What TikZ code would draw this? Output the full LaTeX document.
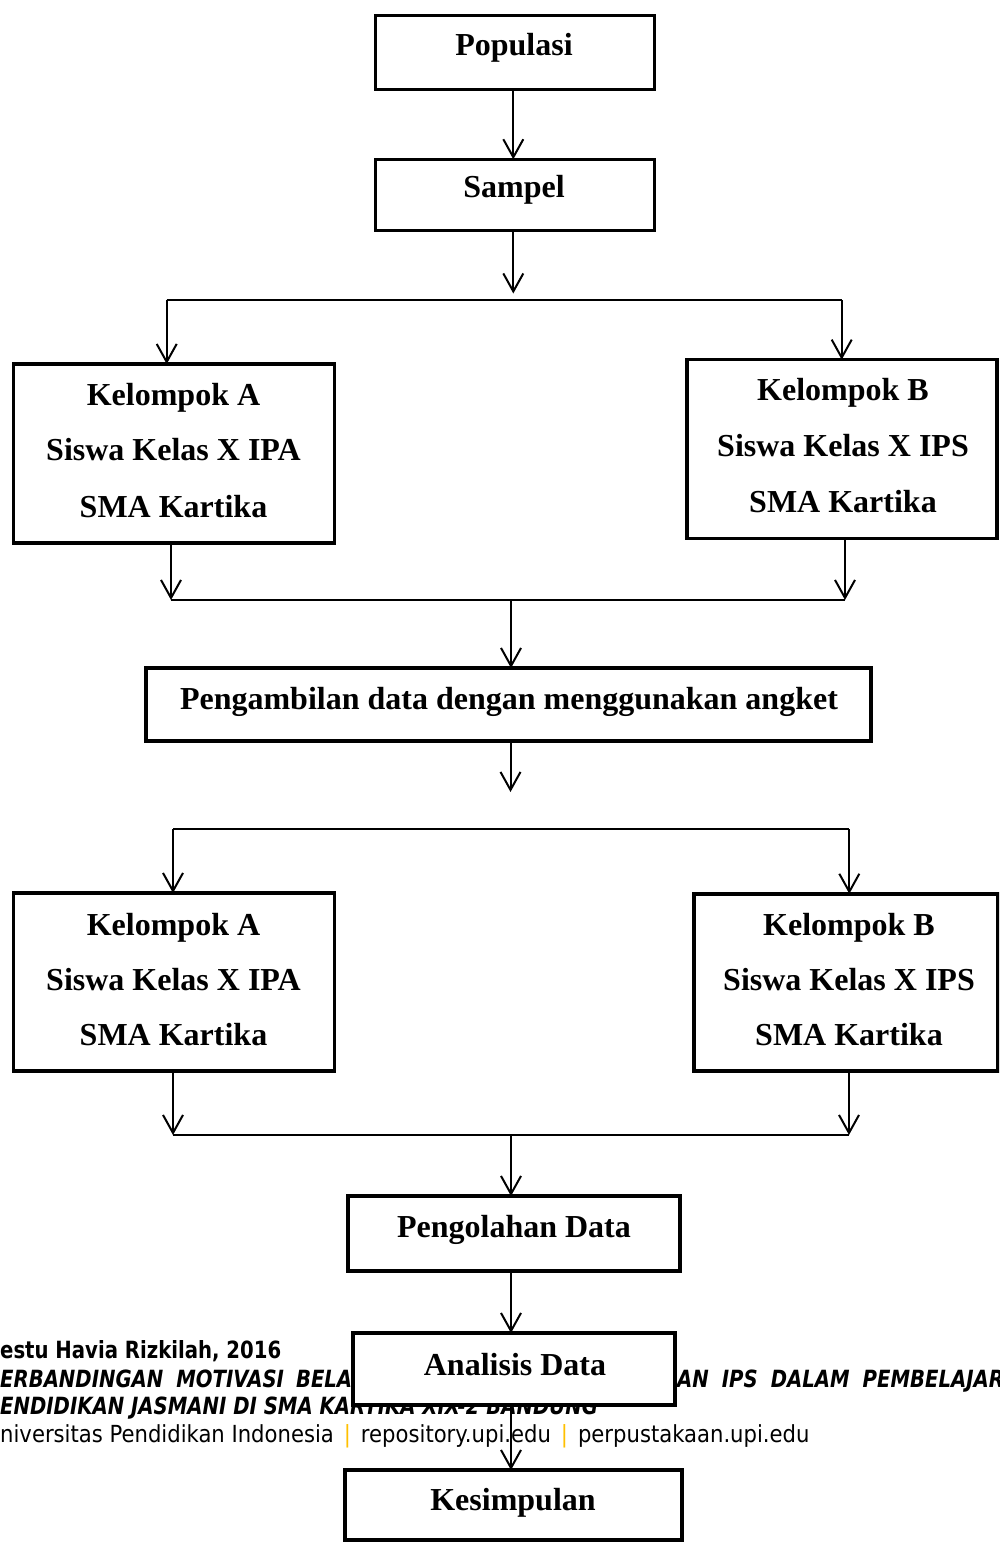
\documentclass[tikz,border=0pt]{standalone}
\usepackage{fontspec}
\setmainfont{Liberation Serif}
\newfontfamily\footreg[FakeStretch=0.9]{DejaVu Sans}
\newfontfamily\footbold[FakeStretch=0.83]{DejaVu Sans}
\usetikzlibrary{arrows.meta}
\definecolor{sepcol}{HTML}{FFC000}
\tikzset{
  bx/.style={draw, line width=3.5pt, fill=white, inner sep=0pt, outer sep=0pt},
  lbl/.style={anchor=base, inner sep=0pt, font=\fontsize{32}{38}\selectfont\bfseries},
  ln/.style={line width=2pt},
  arr/.style={ln, -{Straight Barb[length=18pt,width=20pt]}},
  ft/.style={anchor=base west, inner sep=0pt, font=\fontsize{23.5}{28}\footreg},
  ftb/.style={anchor=base west, inner sep=0pt, font=\fontsize{23.7}{28}\footbold\bfseries},
  ftbi/.style={anchor=base west, inner sep=0pt, font=\fontsize{23.7}{28}\footbold\bfseries\itshape},
}
\begin{document}
\begin{tikzpicture}[x=1pt,y=-1pt]
\useasboundingbox (0,0) rectangle (999,1544);
\clip (0,0) rectangle (999,1544);
\fill[white] (0,0) rectangle (999,1544);

% footer text (behind the chart)
\node[ftb] (f1) at (0,1358) {estu Havia Rizkilah, 2016};
\node[ftbi] (f2a) at (0,1387) {ERBANDINGAN\hspace{13pt}MOTIVASI\hspace{12pt}BELA};
\node[ftbi] (f2b) at (677,1387) {AN\hspace{13pt}IPS\hspace{13pt}DALAM\hspace{13pt}PEMBELAJARAN};
\node[ftbi] (f3) at (0,1414) {ENDIDIKAN JASMANI DI SMA KARTIKA XIX-2 BANDUNG};
\node[ft] (f4) at (0,1442) {niversitas Pendidikan Indonesia\hspace{10pt}{\color{sepcol}|}\hspace{10pt}repository.upi.edu\hspace{10pt}{\color{sepcol}|}\hspace{10pt}perpustakaan.upi.edu};

% boxes
\node[bx, minimum width=279pt, minimum height=74pt] (pop) at (515,52.3) {};
\node[bx, minimum width=279pt, minimum height=71pt] (samp) at (515,194.8) {};
\node[bx, minimum width=321pt, minimum height=179pt] (ka1) at (174.1,453.5) {};
\node[bx, minimum width=310pt, minimum height=179pt] (kb1) at (842,449.2) {};
\node[bx, minimum width=725pt, minimum height=73pt] (peng) at (508.5,704.5) {};
\node[bx, minimum width=321pt, minimum height=178pt] (ka2) at (174.1,982) {};
\node[bx, minimum width=304pt, minimum height=177pt] (kb2) at (846,982.3) {};
\node[bx, minimum width=332pt, minimum height=75pt] (olah) at (514,1233.5) {};
\node[bx, minimum width=322pt, minimum height=72pt] (anal) at (514,1369) {};
\node[bx, minimum width=337pt, minimum height=70pt] (kes) at (513.5,1505) {};

% texts
\node[lbl] (popt) at (514,56) {Populasi};
\node[lbl] (sampt) at (514,197) {Sampel};
\node[lbl] (ka1a) at (173.5,405) {Kelompok A};
\node[lbl] (ka1b) at (173.5,460) {Siswa Kelas X IPA};
\node[lbl] (ka1c) at (173.5,517) {SMA Kartika};
\node[lbl] (kb1a) at (843,400) {Kelompok B};
\node[lbl] (kb1b) at (843,456) {Siswa Kelas X IPS};
\node[lbl] (kb1c) at (843,512) {SMA Kartika};
\node[lbl] (pengt) at (509,709) {Pengambilan data dengan menggunakan angket};
\node[lbl] (ka2a) at (173.5,935) {Kelompok A};
\node[lbl] (ka2b) at (173.5,990) {Siswa Kelas X IPA};
\node[lbl] (ka2c) at (173.5,1045) {SMA Kartika};
\node[lbl] (kb2a) at (849,935) {Kelompok B};
\node[lbl] (kb2b) at (849,990) {Siswa Kelas X IPS};
\node[lbl] (kb2c) at (849,1045) {SMA Kartika};
\node[lbl] (olaht) at (514,1237) {Pengolahan Data};
\node[lbl] (analt) at (515,1375) {Analisis Data};
\node[lbl] (kest) at (513,1510) {Kesimpulan};

% coordinates for junctions
\coordinate (s1tip) at (513.3,293.5);
\coordinate (h1l) at (166.7,300);
\coordinate (h1r) at (841.7,300);
\coordinate (m1l) at (171,600);
\coordinate (m1r) at (845,600);
\coordinate (m1c) at (511,600);
\coordinate (pgtip) at (510.5,792);
\coordinate (h2l) at (173,829);
\coordinate (h2r) at (849.3,829);
\coordinate (m2l) at (173,1135);
\coordinate (m2r) at (849,1135);
\coordinate (m2c) at (511,1135);

% connectors
\draw[arr] (pop.south -| s1tip) -- (samp.north -| s1tip);
\draw[arr] (samp.south -| s1tip) -- (s1tip);
\draw[ln] (h1l) -- (h1r);
\draw[arr] (h1l) -- (h1l |- ka1.north);
\draw[arr] (h1r) -- (h1r |- kb1.north);
\draw[arr] (ka1.south -| m1l) -- (m1l);
\draw[arr] (kb1.south -| m1r) -- (m1r);
\draw[ln] (m1l) -- (m1r);
\draw[arr] (m1c) -- (m1c |- peng.north);
\draw[arr] (peng.south -| pgtip) -- (pgtip);
\draw[ln] (h2l) -- (h2r);
\draw[arr] (h2l) -- (h2l |- ka2.north);
\draw[arr] (h2r) -- (h2r |- kb2.north);
\draw[arr] (ka2.south -| m2l) -- (m2l);
\draw[arr] (kb2.south -| m2r) -- (m2r);
\draw[ln] (m2l) -- (m2r);
\draw[arr] (m2c) -- (m2c |- olah.north);
\draw[arr] (olah.south -| m2c) -- (anal.north -| m2c);
\draw[arr] (anal.south -| m2c) -- (kes.north -| m2c);
\end{tikzpicture}
\end{document}
